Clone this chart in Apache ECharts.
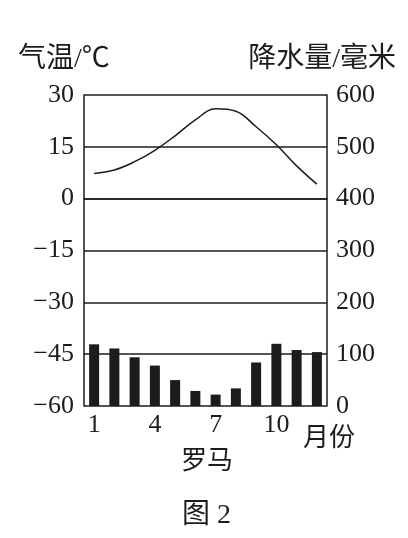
<!DOCTYPE html>
<html><head><meta charset="utf-8">
<script src="https://cdn.jsdelivr.net/npm/echarts@6/dist/echarts.min.js"></script>
<style>html,body{margin:0;padding:0;background:#fff}#c{width:408px;height:538px}</style>
</head><body><div id="c"></div>
<script>
const months = ['1','2','3','4','5','6','7','8','9','10','11','12'];
const temperature = [7.3, 8.3, 10.7, 14.0, 18.2, 22.8, 26.0, 25.3, 20.8, 15.6, 9.5, 4.2];
const precipitation = [119, 111, 94, 78, 50, 29, 22, 34, 84, 120, 108, 104];
const tempTicks = {min: -60, max: 30, interval: 15};
const precTicks = {min: 0, max: 600, interval: 100};

const FONT = '"Liberation Serif", "DejaVu Serif", serif';
const CJK = '"Liberation Serif", "Noto Sans CJK SC", serif';
const INK = '#1c1c1c';
const chart = echarts.init(document.getElementById('c'), null, {renderer: 'canvas'});
chart.setOption({
  backgroundColor: '#fff',
  animation: false,
  grid: {left: 84, right: 81, top: 95, bottom: 132},
  xAxis: {
    type: 'category', data: months, boundaryGap: true,
    axisLine: {show: true, lineStyle: {color: INK, width: 1.5}},
    axisTick: {show: false},
    axisLabel: {interval: 2, color: INK, fontFamily: FONT, fontSize: 26, margin: 6}
  },
  yAxis: [{
    type: 'value', min: tempTicks.min, max: tempTicks.max, interval: tempTicks.interval,
    axisLine: {show: true, lineStyle: {color: INK, width: 1.5}},
    axisTick: {show: false},
    splitLine: {show: true, lineStyle: {color: INK, width: 1.5}},
    axisLabel: {color: INK, fontFamily: FONT, fontSize: 26, margin: 10,
      formatter: v => String(v).replace('-', '\u2212')}
  }, {
    type: 'value', min: precTicks.min, max: precTicks.max, interval: precTicks.interval,
    position: 'right',
    axisLine: {show: true, lineStyle: {color: INK, width: 1.5}},
    axisTick: {show: false},
    splitLine: {show: false},
    axisLabel: {color: INK, fontFamily: FONT, fontSize: 26, margin: 9}
  }],
  series: [{
    type: 'bar', yAxisIndex: 1, data: precipitation, barWidth: 10,
    itemStyle: {color: INK}
  }, {
    type: 'line', yAxisIndex: 0, data: temperature, smooth: 0.4,
    symbol: 'none', lineStyle: {color: INK, width: 1.5}, z: 5
  }],
  graphic: [
    {type: 'text', left: 18, top: 46, style: {text: '气温/℃', font: '28px ' + CJK, fill: INK}},
    {type: 'text', right: 12, top: 46, style: {text: '降水量/毫米', font: '28px ' + CJK, fill: INK}},
    {type: 'text', left: 303, top: 426, style: {text: '月份', font: '26px ' + CJK, fill: INK}},
    {type: 'text', left: 181, top: 449, style: {text: '罗马', font: '26px ' + CJK, fill: INK}},
    {type: 'text', left: 182, top: 502, style: {text: '图 2', font: '28px ' + CJK, fill: INK}}
  ]
});
</script></body></html>
